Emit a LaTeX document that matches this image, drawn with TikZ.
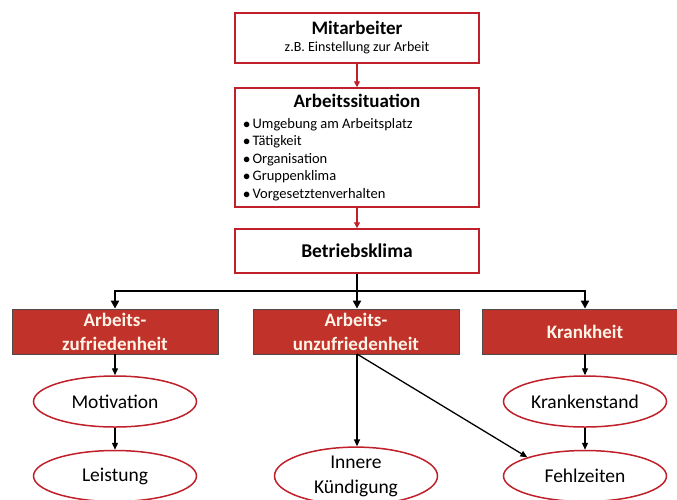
\documentclass[tikz,border=0pt]{standalone}
\usepackage{fontspec}
\setmainfont{Carlito}
\usetikzlibrary{arrows.meta,shapes.geometric}
\definecolor{boxred}{RGB}{192,32,42}
\definecolor{fillred}{RGB}{193,50,42}
\definecolor{lightwhite}{RGB}{255,244,232}
\tikzset{
  whitebox/.style={draw=boxred,line width=1.5pt,fill=white,minimum width=244pt,inner sep=2pt},
  redbox/.style={draw=black!70,line width=0.8pt,fill=fillred,text=lightwhite,minimum width=206pt,minimum height=45pt,align=center,font=\fontsize{19}{24}\selectfont\bfseries,inner sep=1pt},
  oval/.style={ellipse,draw=boxred,line width=1.5pt,fill=white,minimum width=163pt,minimum height=51pt,align=center,font=\fontsize{19.5}{21}\selectfont,inner sep=0pt},
  redarrow/.style={draw=boxred,line width=1.3pt,-{Triangle[length=6pt,width=6pt]}},
  busline/.style={line width=2.6pt,black},
  blackarrow/.style={line width=1.3pt,black,-{Triangle[length=7pt,width=6pt]}}
}
\begin{document}
\begin{tikzpicture}[x=1pt,y=-1pt]
  \useasboundingbox (0,0) rectangle (677,499);
  % top boxes
  \node[whitebox,minimum height=50pt,align=center] (mit) at (357,38)
    {{\fontsize{19}{21}\selectfont\bfseries Mitarbeiter}\\[5pt]{\fontsize{14}{16}\selectfont z.B. Einstellung zur Arbeit}};
  \node[whitebox,minimum height=119pt,align=left,font=\fontsize{14.5}{17.5}\selectfont] (sit) at (357,147.5)
    {\makebox[228pt]{\fontsize{19}{21}\selectfont\bfseries Arbeitssituation}\\[3pt]
     $\bullet$\,Umgebung am Arbeitsplatz\\
     $\bullet$\,Tätigkeit\\
     $\bullet$\,Organisation\\
     $\bullet$\,Gruppenklima\\
     $\bullet$\,Vorgesetztenverhalten};
  \node[whitebox,minimum height=44pt,font=\fontsize{19.5}{21}\selectfont\bfseries] (klima) at (357,251) {Betriebsklima};
  \draw[redarrow] (mit) -- (sit);
  \draw[redarrow] (sit) -- (klima);

  % red boxes
  \node[redbox] (zuf) at (115,331.5) {Arbeits-\\zufriedenheit};
  \node[redbox] (unz) at (356,331.5) {Arbeits-\\unzufriedenheit};
  \node[redbox] (kra) at (585,331.5) {Krankheit};

  % bus
  \coordinate (hub) at (357,291);
  \draw[busline] (klima.south) -- (hub);
  \draw[busline,-{Triangle[length=8pt,width=8pt]}] (hub) -| (zuf.north);
  \draw[busline,-{Triangle[length=8pt,width=8pt]}] (hub) -| (kra.north);
  \draw[busline,-{Triangle[length=8pt,width=8pt]}] (hub) -- (hub |- unz.north);

  % ovals
  \node[oval] (mot) at (115,401.5) {Motivation};
  \node[oval] (lei) at (115,476) {Leistung};
  \node[oval,font=\fontsize{19.5}{25}\selectfont] (inn) at (356,476) {Innere\\Kündigung};
  \node[oval] (ks) at (585,401.5) {Krankenstand};
  \node[oval] (feh) at (585,476) {Fehlzeiten};

  \coordinate (unzfoot) at (357,354);
  \draw[blackarrow] (zuf) -- (mot);
  \draw[blackarrow] (mot) -- (lei);
  \draw[blackarrow] (unzfoot) -- (unzfoot |- inn.north);
  \draw[blackarrow] (unzfoot) -- (feh.162);
  \draw[blackarrow] (kra) -- (ks);
  \draw[blackarrow] (ks) -- (feh);
\end{tikzpicture}
\end{document}
